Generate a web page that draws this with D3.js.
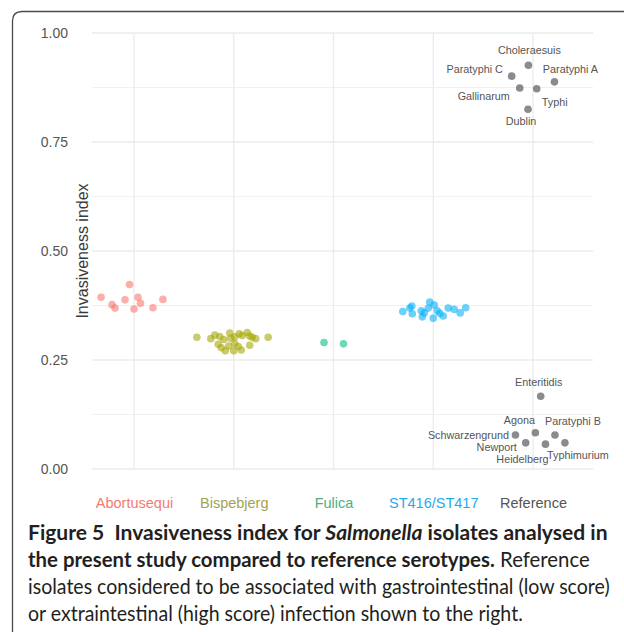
<!DOCTYPE html>
<html>
<head>
<meta charset="utf-8">
<script src="https://cdn.jsdelivr.net/npm/d3@7"></script>
<style>
  html, body { margin: 0; padding: 0; background: #fff; }
  svg { display: block; }
  .caption { white-space: pre; }
</style>
</head>
<body>
<div id="chart"></div>
<script>
// groups on the x axis
var categories = ["Abortusequi", "Bispebjerg", "Fulica", "ST416/ST417", "Reference"];

// invasiveness index per isolate, with the horizontal jitter (in category widths)
var abortusequiIndex  = [0.394, 0.423, 0.377, 0.369, 0.388, 0.394, 0.380, 0.367, 0.370, 0.389];
var abortusequiJitter = [-0.33, -0.045, -0.22, -0.19, -0.09, 0.04, 0.065, 0.0, 0.19, 0.29];

var bispebjergIndex  = [0.302, 0.299, 0.307, 0.304, 0.297, 0.312, 0.300, 0.303, 0.310, 0.306, 0.313, 0.305,
                        0.302, 0.299, 0.302, 0.286, 0.278, 0.271, 0.282, 0.271, 0.288, 0.281, 0.273, 0.284];
var bispebjergJitter = [-0.37, -0.23, -0.19, -0.14, -0.10, -0.04, -0.03, 0.01, 0.055, 0.085, 0.135, 0.16,
                        0.185, 0.22, 0.345, -0.155, -0.125, -0.085, -0.05, 0.0, 0.01, 0.045, 0.075, 0.16];

var fulicaIndex  = [0.290, 0.287];
var fulicaJitter = [-0.095, 0.10];

var st416Index  = [0.361, 0.369, 0.374, 0.356, 0.363, 0.349, 0.358, 0.369, 0.383, 0.346, 0.376, 0.363,
                   0.357, 0.351, 0.369, 0.366, 0.358, 0.370];
var st416Jitter = [-0.305, -0.235, -0.215, -0.21, -0.12, -0.11, -0.09, -0.05, -0.035, 0.0, 0.01, 0.04,
                   0.065, 0.10, 0.15, 0.21, 0.27, 0.325];

// reference serotypes
var refNames  = ["Choleraesuis", "Paratyphi C", "Paratyphi A", "Gallinarum", "Typhi", "Dublin",
                 "Enteritidis", "Agona", "Paratyphi B", "Schwarzengrund", "Newport", "Heidelberg", "Typhimurium"];
var refIndex  = [0.926, 0.901, 0.888, 0.874, 0.872, 0.825,
                 0.167, 0.083, 0.078, 0.078, 0.060, 0.057, 0.060];
var refJitter = [-0.046, -0.214, 0.215, -0.133, 0.037, -0.05,
                 0.077, 0.024, 0.22, -0.176, -0.073, 0.125, 0.32];

var yTicks = [0, 0.25, 0.5, 0.75, 1];
var yMinorTicks = [0.125, 0.375, 0.625, 0.875];

// label placement for the reference names (pixels from the point, like ggrepel left them)
var labelNudge = {
  "Choleraesuis": [1, -15], "Paratyphi C": [-37, -7], "Paratyphi A": [16, -13],
  "Gallinarum": [-36, 8], "Typhi": [18, 13], "Dublin": [-7, 11.5],
  "Enteritidis": [-2, -14], "Agona": [-16, -12.5], "Paratyphi B": [18, -13.5],
  "Schwarzengrund": [-47, 0], "Newport": [-29, 4.5], "Heidelberg": [-23, 15.5],
  "Typhimurium": [13, 12.5]
};

var pointColor = {
  "Abortusequi": "#F8766D", "Bispebjerg": "#A3A500", "Fulica": "#00BF7D",
  "ST416/ST417": "#00B0F6", "Reference": "#5a5a5a"
};
var labelColor = {
  "Abortusequi": "#f47a72", "Bispebjerg": "#a2a352", "Fulica": "#4fae7f",
  "ST416/ST417": "#1fa9ef", "Reference": "#555555"
};

var W = 624, H = 632;
var panel = { left: 92, right: 593, top: 33, bottom: 469 };

var svg = d3.select("#chart").append("svg")
  .attr("width", W)
  .attr("height", H)
  .attr("viewBox", "0 0 " + W + " " + H);

// frame: top and left rule with rounded corner
svg.append("path")
  .attr("d", "M12.5," + H + " V21 Q12.5,11.5 22,11.5 H" + W)
  .attr("fill", "none")
  .attr("stroke", "#4a4a4a")
  .attr("stroke-width", 1.3);

var x = d3.scalePoint()
  .domain(categories)
  .range([134, 533]);
var step = x.step();

var y = d3.scaleLinear()
  .domain([0, 1])
  .range([panel.bottom, panel.top]);

var chartFont = "'Liberation Sans', Arial, Helvetica, sans-serif";

// minor + major horizontal grid
svg.append("g").selectAll("line.minor")
  .data(yMinorTicks)
  .join("line")
  .attr("x1", panel.left).attr("x2", panel.right)
  .attr("y1", function(d) { return y(d); })
  .attr("y2", function(d) { return y(d); })
  .attr("stroke", "#f0f0f0")
  .attr("stroke-width", 1);

svg.append("g").selectAll("line.major")
  .data(yTicks)
  .join("line")
  .attr("x1", panel.left).attr("x2", panel.right)
  .attr("y1", function(d) { return y(d); })
  .attr("y2", function(d) { return y(d); })
  .attr("stroke", "#ebebeb")
  .attr("stroke-width", 1.3);

svg.append("g").selectAll("line.vert")
  .data(categories)
  .join("line")
  .attr("x1", function(d) { return x(d); })
  .attr("x2", function(d) { return x(d); })
  .attr("y1", panel.top).attr("y2", panel.bottom)
  .attr("stroke", "#ebebeb")
  .attr("stroke-width", 1.3);

// y axis labels
var yAxis = svg.append("g")
  .attr("transform", "translate(68,0)")
  .call(d3.axisLeft(y).tickValues(yTicks).tickFormat(d3.format(".2f")).tickSize(0).tickPadding(0));
yAxis.select(".domain").remove();
yAxis.selectAll("text")
  .attr("font-family", chartFont)
  .attr("font-size", 14)
  .attr("fill", "#555555");

// x axis labels, coloured by group
var xAxis = svg.append("g")
  .attr("transform", "translate(0,498)")
  .call(d3.axisBottom(x).tickSize(0).tickPadding(0));
xAxis.select(".domain").remove();
xAxis.selectAll("text")
  .attr("font-family", chartFont)
  .attr("font-size", 14.5)
  .attr("fill", function(d) { return labelColor[d]; });

svg.append("text")
  .attr("transform", "translate(82," + y(0.5) + ") rotate(-90)")
  .attr("text-anchor", "middle")
  .attr("dy", "0.35em")
  .attr("font-family", chartFont)
  .attr("font-size", 16)
  .attr("fill", "#3a3a3a")
  .text("Invasiveness index");

// gather isolates
function toPoints(group, values, jitter, names) {
  return values.map(function(v, i) {
    return { group: group, value: v, jitter: jitter[i], name: names ? names[i] : null };
  });
}
var points = [].concat(
  toPoints("Abortusequi", abortusequiIndex, abortusequiJitter),
  toPoints("Bispebjerg", bispebjergIndex, bispebjergJitter),
  toPoints("Fulica", fulicaIndex, fulicaJitter),
  toPoints("ST416/ST417", st416Index, st416Jitter),
  toPoints("Reference", refIndex, refJitter, refNames)
);

function px(d) { return x(d.group) + d.jitter * step; }

svg.append("g").selectAll("circle")
  .data(points)
  .join("circle")
  .attr("cx", px)
  .attr("cy", function(d) { return y(d.value); })
  .attr("r", 3.8)
  .attr("fill", function(d) { return pointColor[d.group]; })
  .attr("fill-opacity", function(d) { return d.group === "Reference" ? 0.7 : 0.58; });

svg.append("g").selectAll("text")
  .data(points.filter(function(d) { return d.name; }))
  .join("text")
  .attr("x", function(d) { return px(d) + labelNudge[d.name][0]; })
  .attr("y", function(d) { return y(d.value) + labelNudge[d.name][1]; })
  .attr("dy", "0.35em")
  .attr("text-anchor", "middle")
  .attr("font-family", chartFont)
  .attr("font-size", 10.8)
  .attr("fill", "#555555")
  .text(function(d) { return d.name; });

// figure caption
var captionFont = "Lato, 'Open Sans', sans-serif";
var captionLines = [
  [["Figure 5  Invasiveness index for ", "bold"], ["Salmonella", "bolditalic"], [" isolates analysed in", "bold"]],
  [["the present study compared to reference serotypes.", "bold"], [" Reference", "normal"]],
  [["isolates considered to be associated with gastrointestinal (low score)", "normal"]],
  [["or extraintestinal (high score) infection shown to the right.", "normal"]]
];
var captionWidths = [580, 562, 582, 495];
var captionBaselines = [540, 567, 594, 621];

captionLines.forEach(function(parts, i) {
  var t = svg.append("text")
    .attr("class", "caption")
    .attr("x", 28)
    .attr("y", captionBaselines[i])
    .attr("font-family", captionFont)
    .attr("font-size", 20.5)
    .attr("fill", "#231f20");
  parts.forEach(function(p) {
    t.append("tspan")
      .attr("font-weight", p[1] === "normal" ? 400 : 700)
      .attr("font-style", p[1] === "bolditalic" ? "italic" : "normal")
      .text(p[0]);
  });
  var w = t.node().getComputedTextLength();
  var k = captionWidths[i] / w;
  t.attr("transform", "translate(28,0) scale(" + k + ",1) translate(-28,0)");
});
</script>
</body>
</html>
